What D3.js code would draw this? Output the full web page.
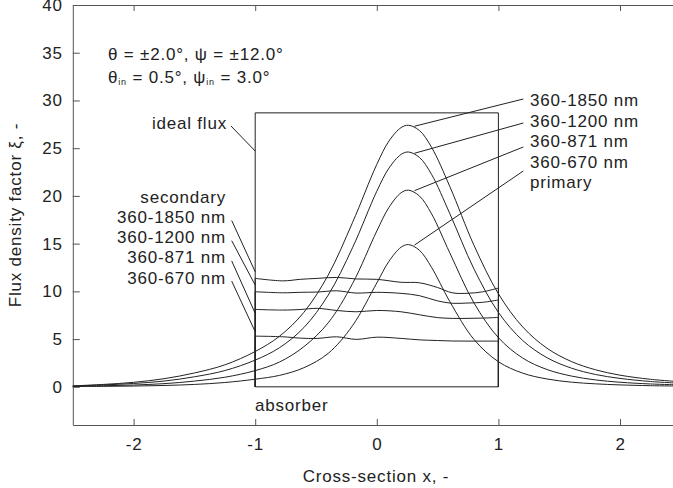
<!doctype html>
<html>
<head>
  <meta charset="utf-8">
  <title>Flux density factor</title>
  <style>
  body { margin: 0; background: #fff; }
  svg text { font-family: "Liberation Sans", Arial, sans-serif; font-size: 17px; fill: #222; letter-spacing: 0.8px; }
  .axis path, .axis line { stroke: #555; }
  .curve { fill: none; stroke: #222; stroke-width: 1; }
  </style>
</head>
<body>
  <div id="vis"></div>
  <script src="https://d3js.org/d3.v7.min.js"></script>
  <script>
  var width = 673;
  var height = 488;

  // primary flux (cross-section x -> xi)
  var px = [-2.5, -2.25, -2.0, -1.75, -1.5, -1.25, -1.0, -0.8, -0.6, -0.4, -0.2, 0.0, 0.1, 0.2, 0.26, 0.35, 0.45, 0.6, 0.8, 1.0, 1.2, 1.4, 1.6, 1.8, 2.0, 2.25, 2.5];
  var p1850 = [0.1, 0.25, 0.47, 0.85, 1.45, 2.3, 3.7, 5.3, 7.8, 11.7, 17.2, 23.3, 25.75, 27.16, 27.4, 26.86, 25.1, 21.0, 14.8, 9.75, 6.27, 4.04, 2.65, 1.78, 1.22, 0.79, 0.53];
  var p1200 = [0.08, 0.2, 0.35, 0.6, 1.05, 1.7, 2.8, 4.1, 6.2, 9.6, 14.56, 20.49, 22.91, 24.35, 24.6, 24.04, 22.26, 18.16, 12.32, 7.8, 4.85, 3.05, 1.96, 1.29, 0.88, 0.56, 0.37];
  var p871 = [0.05, 0.11, 0.19, 0.33, 0.6, 1.0, 1.7, 2.6, 4.2, 6.7, 10.8, 16.32, 18.8, 20.33, 20.6, 20.0, 18.13, 14.04, 8.77, 5.15, 3.01, 1.81, 1.13, 0.72, 0.48, 0.3, 0.2];
  var p670 = [0.03, 0.05, 0.08, 0.14, 0.25, 0.45, 0.8, 1.2, 2.0, 3.5, 6.4, 10.88, 13.15, 14.63, 14.9, 14.31, 12.52, 8.94, 4.95, 2.63, 1.43, 0.82, 0.49, 0.31, 0.2, 0.12, 0.08];

  // secondary flux, only on the absorber (-1..1)
  var sx = [-1, -0.77, -0.63, -0.49, -0.33, -0.17, 0.0, 0.2, 0.35, 0.5, 0.62, 0.75, 0.87, 1.0];
  var s1850 = [11.36, 11.1, 11.26, 11.36, 11.46, 11.3, 11.26, 10.95, 10.9, 10.4, 9.85, 9.8, 9.95, 10.35];
  var s1200 = [9.96, 9.85, 9.9, 9.93, 10.06, 9.82, 9.9, 9.79, 9.55, 9.0, 8.75, 8.78, 8.85, 9.1];
  var s871 = [8.11, 8.04, 8.1, 8.22, 8.0, 7.86, 8.0, 7.86, 7.55, 7.25, 7.17, 7.17, 7.2, 7.27];
  var s670 = [5.31, 5.24, 5.1, 5.07, 5.24, 4.97, 5.2, 5.07, 4.92, 4.85, 4.8, 4.79, 4.79, 4.79];

  // ideal flux box
  var idealX = [-1, -1, 1, 1, -1];
  var idealY = [0, 28.7, 28.7, 0, 0];

  var bandLabels = ['360-1850 nm', '360-1200 nm', '360-871 nm', '360-670 nm'];
  var xTicks = [-2, -1, 0, 1, 2];
  var yTicks = [0, 5, 10, 15, 20, 25, 30, 35, 40];

  var svg = d3.select('#vis').append('svg')
    .attr('width', width)
    .attr('height', height);

  var x = d3.scaleLinear().domain([-2.5, 2.5]).range([72.8, 680.8]);
  var y = d3.scaleLinear().domain([-4, 40]).range([425, 5]);

  function zip(xs, ys){
    return xs.map(function(v, i){ return [v, ys[i]]; });
  }

  var smooth = d3.line()
    .x(function(d){ return x(d[0]); })
    .y(function(d){ return y(d[1]); })
    .curve(d3.curveCatmullRom.alpha(0.5));
  var straight = d3.line()
    .x(function(d){ return x(d[0]); })
    .y(function(d){ return y(d[1]); });

  // axes
  svg.append('g').attr('class', 'axis')
    .attr('transform', 'translate(' + x.range()[0] + ',0)')
    .call(d3.axisLeft(y).tickValues(yTicks).tickSize(-7).tickSizeOuter(0).tickPadding(10))
    .selectAll('text').style('font-size', '17px').style('font-family', null);
  svg.append('g').attr('class', 'axis')
    .attr('transform', 'translate(0,' + y.range()[0] + ')')
    .call(d3.axisBottom(x).tickValues(xTicks).tickSize(-6).tickSizeOuter(0).tickPadding(13)
      .tickFormat(function(d){ return String(d); }))
    .selectAll('text').style('font-size', '17px').style('font-family', null);
  svg.append('g').attr('class', 'axis')
    .attr('transform', 'translate(0,' + y.range()[1] + ')')
    .call(d3.axisTop(x).tickValues(xTicks).tickSize(-6).tickSizeOuter(0).tickFormat(''));
  svg.selectAll('.axis text').attr('fill', '#222');

  // ideal flux
  svg.append('path').attr('class', 'curve').attr('d', straight(zip(idealX, idealY)));

  // primary
  [p1850, p1200, p871, p670].forEach(function(s){
    svg.append('path').attr('class', 'curve').attr('d', smooth(zip(px, s)));
  });

  // secondary
  [s1850, s1200, s871, s670].forEach(function(s){
    svg.append('path').attr('class', 'curve').attr('d', smooth(zip(sx, s)));
    svg.append('path').attr('class', 'curve')
      .attr('d', straight([[sx[0], 0], [sx[0], s[0]]]));
    svg.append('path').attr('class', 'curve')
      .attr('d', straight([[sx[sx.length - 1], 0], [sx[sx.length - 1], s[s.length - 1]]]));
  });

  // angle text
  var t1 = svg.append('text').attr('x', 108).attr('y', 60);
  t1.text('\u03b8 = \u00b12.0\u00b0, \u03c8 = \u00b112.0\u00b0');
  var t2 = svg.append('text').attr('x', 108).attr('y', 83);
  t2.append('tspan').text('\u03b8');
  t2.append('tspan').text('in').style('font-size', '9px').attr('dy', 2);
  t2.append('tspan').text(' = 0.5\u00b0, \u03c8').attr('dy', -2);
  t2.append('tspan').text('in').style('font-size', '9px').attr('dy', 2);
  t2.append('tspan').text(' = 3.0\u00b0').attr('dy', -2);

  // ideal flux label
  svg.append('text').attr('x', 227).attr('y', 129).attr('text-anchor', 'end').text('ideal flux');
  svg.append('path').attr('class', 'curve')
    .attr('d', 'M231,126L' + x(-1) + ',' + y(24.7));

  // secondary labels (left)
  svg.append('text').attr('x', 226).attr('y', 203).attr('text-anchor', 'end').text('secondary');
  var leftEnds = [12.05, 10.66, 7.7, 5.77];
  bandLabels.forEach(function(lab, i){
    var ty = 223 + i * 20.2;
    svg.append('text').attr('x', 226).attr('y', ty).attr('text-anchor', 'end').text(lab);
    svg.append('path').attr('class', 'curve')
      .attr('d', 'M231.7,' + (ty - 2.5) + 'L' + x(-1) + ',' + y(leftEnds[i]));
  });

  // primary labels (right)
  var peakVals = [27.3, 24.47, 20.55, 14.85];
  bandLabels.forEach(function(lab, i){
    var ty = 106 + i * 20.6;
    svg.append('text').attr('x', 530).attr('y', ty).text(lab);
    svg.append('path').attr('class', 'curve')
      .attr('d', 'M' + x(0.31) + ',' + y(peakVals[i]) + 'L523.3,' + (99 + i * 24));
  });
  svg.append('text').attr('x', 530).attr('y', 106 + 4 * 20.6).text('primary');

  svg.append('text').attr('x', 255).attr('y', 411).text('absorber');

  // axis titles
  svg.append('text').attr('x', 376).attr('y', 482).attr('text-anchor', 'middle').text('Cross-section x, -');
  svg.append('text').attr('transform', 'translate(21,215) rotate(-90)')
    .attr('text-anchor', 'middle').text('Flux density factor \u03be, -');
  </script>
</body>
</html>
